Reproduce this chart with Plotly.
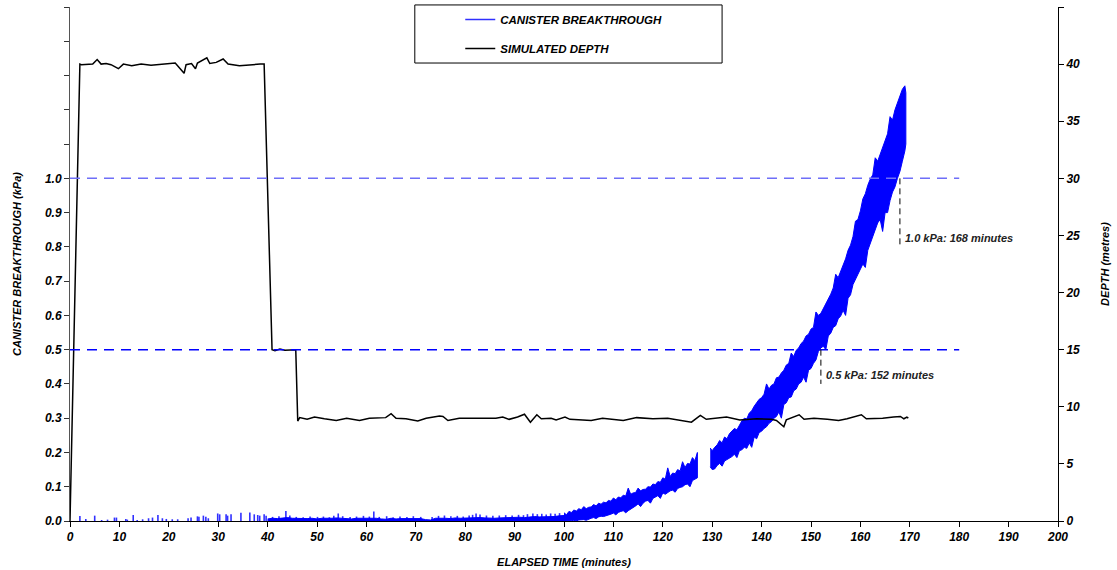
import plotly.graph_objects as go

# ---------------- data ----------------
# Isolated breakthrough spikes above the noise floor, 0-100 min (time, kPa)
spike_t = [2.0, 3.2, 5.0, 6.4, 7.6, 9.0, 9.4, 11.3, 11.6, 12.8, 13.6, 14.7, 15.9, 16.7,
           17.8, 18.7, 19.5, 20.7, 21.8, 23.9, 24.5, 25.8, 26.1, 27.0, 27.5, 28.0, 29.9,
           30.3, 31.6, 31.9, 32.6, 34.6, 36.4, 37.3, 38.0, 38.4, 39.3, 39.7,
           41.0, 42.3, 43.7, 44.5, 45.8, 47.2, 48.6, 50.1, 51.3, 52.5, 53.4, 54.3, 55.2,
           56.7, 58.0, 59.4, 60.6, 61.5, 62.6, 64.1, 65.4, 66.8, 68.2, 69.5, 71.0, 73.3,
           74.6, 75.8, 77.1, 78.4, 79.6, 80.8, 81.5, 82.2, 83.0, 84.3, 85.6, 86.9, 88.2,
           89.5, 90.8, 91.8, 92.6, 93.7, 94.6, 95.5, 96.4, 97.3, 98.2, 99.1]
spike_kpa = [0.0146, 0.006, 0.0156, 0.003, 0.004, 0.010, 0.010, 0.006, 0.004, 0.0175, 0.003,
             0.005, 0.008, 0.010, 0.0175, 0.008, 0.006, 0.005, 0.005, 0.008, 0.010, 0.0136,
             0.0127, 0.0156, 0.0127, 0.008, 0.022, 0.0195, 0.020, 0.0156, 0.0195, 0.024,
             0.025, 0.0195, 0.0175, 0.0156, 0.0195, 0.0156,
             0.012, 0.014, 0.029, 0.016, 0.012, 0.011, 0.013, 0.012, 0.013, 0.011, 0.015,
             0.022, 0.014, 0.012, 0.013, 0.015, 0.013, 0.028, 0.012, 0.014, 0.011, 0.013,
             0.012, 0.014, 0.012, 0.012, 0.015, 0.016, 0.014, 0.015, 0.013, 0.016, 0.018,
             0.022, 0.019, 0.016, 0.015, 0.016, 0.017, 0.016, 0.018, 0.017, 0.020, 0.022,
             0.020, 0.021, 0.019, 0.022, 0.021, 0.023]

# Dense low-level noise floor, 40-100 min (upper envelope, lower = 0)
low_t = list(range(40, 101))
low_upper = [0.006, 0.008, 0.007, 0.009, 0.010, 0.008, 0.007, 0.006, 0.007, 0.008,
             0.006, 0.008, 0.007, 0.008, 0.009, 0.008, 0.007, 0.006, 0.008, 0.008,
             0.007, 0.009, 0.008, 0.006, 0.005, 0.008, 0.006, 0.007, 0.007, 0.008,
             0.006, 0.007, 0.004, 0.003, 0.008, 0.009, 0.008, 0.007, 0.009, 0.008,
             0.009, 0.008, 0.010, 0.010, 0.009, 0.008, 0.008, 0.009, 0.010, 0.009,
             0.010, 0.011, 0.010, 0.012, 0.013, 0.012, 0.012, 0.014, 0.013, 0.015,
             0.016]

# Rising band before the logging gap, 100-127 min
rise1_t = [100.0, 100.5, 101.0, 101.5, 102.0, 102.5, 103.0, 103.5, 104.0, 104.5, 105.0,
           105.5, 106.0, 106.5, 107.0, 107.5, 108.0, 108.5, 109.0, 109.5, 110.0, 110.5,
           111.0, 111.5, 112.0, 112.5, 113.0, 113.5, 114.0, 114.5, 115.0, 115.5, 116.0,
           116.5, 117.0, 117.5, 118.0, 118.5, 119.0, 119.5, 120.0, 120.5, 121.0, 121.5,
           122.0, 122.5, 123.0, 123.5, 124.0, 124.5, 125.0, 125.5, 126.0, 126.5, 127.0]
rise1_lower = [0.000, 0.000, 0.000, 0.001, 0.002, 0.000, 0.003, 0.004, 0.004, 0.002, 0.006,
               0.008, 0.010, 0.007, 0.012, 0.014, 0.013, 0.016, 0.018, 0.020, 0.023, 0.018,
               0.025, 0.028, 0.030, 0.024, 0.030, 0.036, 0.040, 0.044, 0.050, 0.042, 0.052,
               0.058, 0.060, 0.052, 0.066, 0.070, 0.074, 0.066, 0.082, 0.078, 0.082, 0.088,
               0.090, 0.084, 0.095, 0.098, 0.100, 0.106, 0.108, 0.100, 0.118, 0.122, 0.126]
rise1_upper = [0.024, 0.018, 0.028, 0.025, 0.032, 0.029, 0.036, 0.033, 0.042, 0.036, 0.040,
               0.041, 0.048, 0.044, 0.052, 0.049, 0.055, 0.053, 0.060, 0.058, 0.067, 0.062,
               0.070, 0.068, 0.075, 0.073, 0.096, 0.078, 0.082, 0.083, 0.096, 0.088, 0.092,
               0.093, 0.100, 0.099, 0.108, 0.106, 0.115, 0.113, 0.126, 0.122, 0.155, 0.130,
               0.140, 0.138, 0.150, 0.146, 0.173, 0.156, 0.168, 0.166, 0.185, 0.176, 0.200]

# Rising band after the gap, 129.6-169.2 min
rise2_t = [129.6, 130.0, 130.5, 131.0, 131.5, 132.0, 132.5, 133.0, 133.5, 134.0, 134.5,
           135.0, 135.5, 136.0, 136.5, 137.0, 137.5, 138.0, 138.5, 139.0, 139.5, 140.0,
           140.5, 141.0, 141.5, 142.0, 142.5, 143.0, 143.5, 144.0, 144.5, 145.0, 145.5,
           146.0, 146.5, 147.0, 147.5, 148.0, 148.5, 149.0, 149.5, 150.0, 150.5, 151.0,
           151.5, 152.0, 152.5, 153.0, 153.5, 154.0, 154.5, 155.0, 155.5, 156.0, 156.5,
           157.0, 157.5, 158.0, 158.5, 159.0, 159.5, 160.0, 160.5, 161.0, 161.5, 162.0,
           162.5, 163.0, 163.5, 164.0, 164.5, 165.0, 165.5, 166.0, 166.5, 167.0, 167.5,
           168.0, 168.5, 169.0, 169.2]
rise2_lower = [0.158, 0.150, 0.152, 0.162, 0.168, 0.160, 0.175, 0.178, 0.184, 0.188, 0.195,
               0.185, 0.205, 0.208, 0.215, 0.212, 0.228, 0.215, 0.245, 0.240, 0.258, 0.262,
               0.270, 0.275, 0.285, 0.290, 0.300, 0.305, 0.318, 0.300, 0.340, 0.345, 0.360,
               0.362, 0.380, 0.385, 0.400, 0.405, 0.420, 0.405, 0.440, 0.445, 0.460, 0.470,
               0.495, 0.505, 0.510, 0.500, 0.540, 0.548, 0.565, 0.570, 0.590, 0.598, 0.615,
               0.600, 0.650, 0.660, 0.690, 0.700, 0.720, 0.735, 0.750, 0.740, 0.790, 0.805,
               0.830, 0.850, 0.870, 0.880, 0.845, 0.900, 0.900, 0.935, 0.960, 0.975, 1.000,
               1.020, 1.050, 1.080, 1.100]
rise2_upper = [0.213, 0.205, 0.215, 0.222, 0.235, 0.228, 0.245, 0.240, 0.255, 0.262, 0.270,
               0.266, 0.280, 0.292, 0.300, 0.298, 0.315, 0.322, 0.335, 0.345, 0.355, 0.360,
               0.370, 0.400, 0.385, 0.396, 0.400, 0.418, 0.420, 0.432, 0.440, 0.455, 0.460,
               0.490, 0.480, 0.498, 0.505, 0.518, 0.525, 0.540, 0.545, 0.560, 0.565, 0.610,
               0.600, 0.606, 0.620, 0.632, 0.650, 0.662, 0.680, 0.720, 0.710, 0.728, 0.750,
               0.765, 0.790, 0.805, 0.830, 0.875, 0.880, 0.905, 0.940, 0.955, 0.980, 0.998,
               1.010, 1.060, 1.050, 1.070, 1.090, 1.110, 1.130, 1.180, 1.170, 1.200, 1.220,
               1.240, 1.260, 1.270, 1.250]

# Simulated depth (time, metres)
depth_t = [0, 2.0, 2.3, 4.6, 5.5, 6.3, 7.3, 8.3, 9.8, 10.8, 12.5, 14.4, 16.4, 18.5, 20.3,
           21.3, 23.1, 23.5, 24.6, 25.4, 25.8, 27.7, 28.3, 29.6, 31.0, 32.0, 34.3, 36.6,
           38.5, 39.3, 40.9, 41.5, 42.5, 43.5, 44.5, 45.7, 46.1, 46.5, 48.0, 49.5, 51.5,
           53.9, 56.0, 58.6, 60.6, 63.9, 65.0, 66.0, 68.0, 70.4, 72.1, 74.8, 75.5, 76.5,
           78.8, 82.8, 86.2, 87.6, 88.9, 90.6, 92.0, 93.2, 94.5, 95.4, 97.4, 98.4, 100.2,
           101.2, 103.0, 105.5, 107.8, 112.0, 114.7, 118.0, 121.0, 125.8, 127.6, 128.8,
           132.9, 135.6, 139.0, 142.0, 143.0, 144.5, 145.0, 147.6, 148.6, 150.6, 153.3,
           155.6, 157.3, 160.2, 161.2, 164.5, 166.7, 168.1, 168.8, 169.4, 169.7]
depth_m = [0, 40.0, 39.95, 40.0, 40.4, 40.0, 40.05, 39.95, 39.6, 40.0, 39.85, 40.0, 39.9,
           40.0, 40.05, 40.1, 39.2, 39.95, 40.05, 39.6, 40.1, 40.55, 40.05, 40.15, 40.45,
           40.0, 39.85, 39.95, 40.0, 40.0, 15.0, 14.9, 15.05, 14.95, 15.0, 15.0, 8.75, 9.05,
           8.9, 9.1, 8.95, 8.8, 9.0, 8.8, 9.0, 9.05, 9.4, 9.0, 8.95, 8.75, 9.0, 9.2, 9.15,
           8.8, 9.0, 9.0, 9.0, 9.1, 8.9, 9.1, 9.35, 8.65, 9.3, 8.95, 9.0, 8.85, 9.1, 8.9,
           8.85, 8.8, 9.0, 8.8, 9.05, 8.95, 9.0, 8.65, 9.25, 8.9, 9.1, 8.85, 8.95, 8.9, 8.8,
           8.25, 8.85, 9.3, 8.9, 9.0, 8.9, 8.8, 8.95, 9.3, 8.95, 9.0, 9.1, 9.15, 8.95, 9.1,
           9.0]

# Threshold markers
thresholds_kpa = [0.5, 1.0]
threshold_times = [152, 168]
threshold_drop_to = [0.40, 0.80]
threshold_labels = ["0.5 kPa: 152 minutes", "1.0 kPa: 168 minutes"]
threshold_line_end = 180
threshold_colors = ["#0000ff", "#6e6ef8"]

x_ticks = list(range(0, 201, 10))
y_ticks = [round(i * 0.1, 1) for i in range(0, 16)]
y_ticktext = [f"{v:.1f}" if v <= 1.0 else "" for v in y_ticks]
y2_ticks = list(range(0, 46, 5))
y2_ticktext = [str(v) if v <= 40 else "" for v in y2_ticks]

# ---------------- figure ----------------
FONT = "Liberation Sans, Arial, sans-serif"
BLUE = "#0000ff"

fig = go.Figure()

# spikes (legend entry for the canister series)
sx, sy = [], []
for t, h in zip(spike_t, spike_kpa):
    sx += [t, t, None]
    sy += [0, h, None]
fig.add_trace(go.Scatter(x=sx, y=sy, mode="lines", line=dict(color="#3030ff", width=1.6),
                         name="CANISTER BREAKTHROUGH", legendgroup="a", legendrank=1,
                         hoverinfo="skip"))


def band(ts, lo, up):
    return go.Scatter(x=list(ts) + list(ts)[::-1], y=list(up) + list(lo)[::-1],
                      mode="lines", fill="toself", fillcolor=BLUE,
                      line=dict(color=BLUE, width=1), showlegend=False, hoverinfo="skip")


fig.add_trace(band(low_t, [0] * len(low_t), low_upper))
fig.add_trace(band(rise1_t, rise1_lower, rise1_upper))
fig.add_trace(band(rise2_t, rise2_lower, rise2_upper))

fig.add_trace(go.Scatter(x=depth_t, y=depth_m, mode="lines", yaxis="y2",
                         line=dict(color="black", width=1.5), name="SIMULATED DEPTH",
                         legendgroup="b", legendrank=2, hoverinfo="skip"))

shapes = []
annotations = []
for k, t, lo, lab, col in zip(thresholds_kpa, threshold_times, threshold_drop_to,
                              threshold_labels, threshold_colors):
    shapes.append(dict(type="line", xref="x", yref="y", x0=0, x1=threshold_line_end,
                       y0=k, y1=k, line=dict(color=col, width=1.5, dash="10px,7px")))
    shapes.append(dict(type="line", xref="x", yref="y", x0=t, x1=t, y0=k, y1=lo,
                       line=dict(color="black", width=1, dash="6px,4px")))
    annotations.append(dict(x=t + 0.6, y=lo + 0.025, xref="x", yref="y", text=lab,
                            showarrow=False, xanchor="left", yanchor="middle",
                            font=dict(family=FONT, size=11, color="#222",
                                      weight="bold", style="italic")))

# legend frame
shapes.append(dict(type="rect", xref="paper", yref="paper", x0=0.349, x1=0.66,
                   y0=0.891, y1=1.004, line=dict(color="black", width=1),
                   fillcolor="white", layer="below"))

tickfont = dict(family=FONT, size=12, color="black", weight="bold", style="italic")
titlefont = dict(family=FONT, size=11, color="black", weight="bold", style="italic")

fig.update_layout(
    width=1117, height=570,
    margin=dict(l=70, r=59, t=7, b=49, autoexpand=False),
    paper_bgcolor="white", plot_bgcolor="white",
    showlegend=True,
    legend=dict(x=0.395, y=1.004, xanchor="left", yanchor="top",
                bgcolor="rgba(0,0,0,0)", borderwidth=0, tracegroupgap=10,
                traceorder="grouped",
                font=dict(family=FONT, size=11.5, color="black", weight="bold",
                          style="italic")),
    xaxis=dict(range=[0, 200], tickvals=x_ticks, showgrid=False, zeroline=False,
               showline=True, linecolor="black", linewidth=1, ticks="outside",
               ticklen=5, tickcolor="black", tickfont=tickfont, automargin=False,
               title=dict(text="ELAPSED TIME (minutes)", font=titlefont, standoff=14)),
    yaxis=dict(range=[0, 1.5], tickvals=y_ticks, ticktext=y_ticktext, showgrid=False,
               zeroline=False, showline=True, linecolor="#555", linewidth=1,
               ticks="outside", ticklen=5, tickcolor="#333", tickfont=tickfont,
               automargin=False,
               title=dict(text="CANISTER BREAKTHROUGH (kPa)", font=titlefont, standoff=21)),
    yaxis2=dict(range=[0, 45], tickvals=y2_ticks, ticktext=y2_ticktext, overlaying="y",
                side="right", showgrid=False, zeroline=False, showline=True,
                linecolor="black", linewidth=1, ticks="outside", ticklen=5,
                tickcolor="black", tickfont=tickfont, automargin=False,
                title=dict(text="DEPTH (metres)", font=titlefont, standoff=22)),
    shapes=shapes,
    annotations=annotations,
)

fig.write_html("out.html")
